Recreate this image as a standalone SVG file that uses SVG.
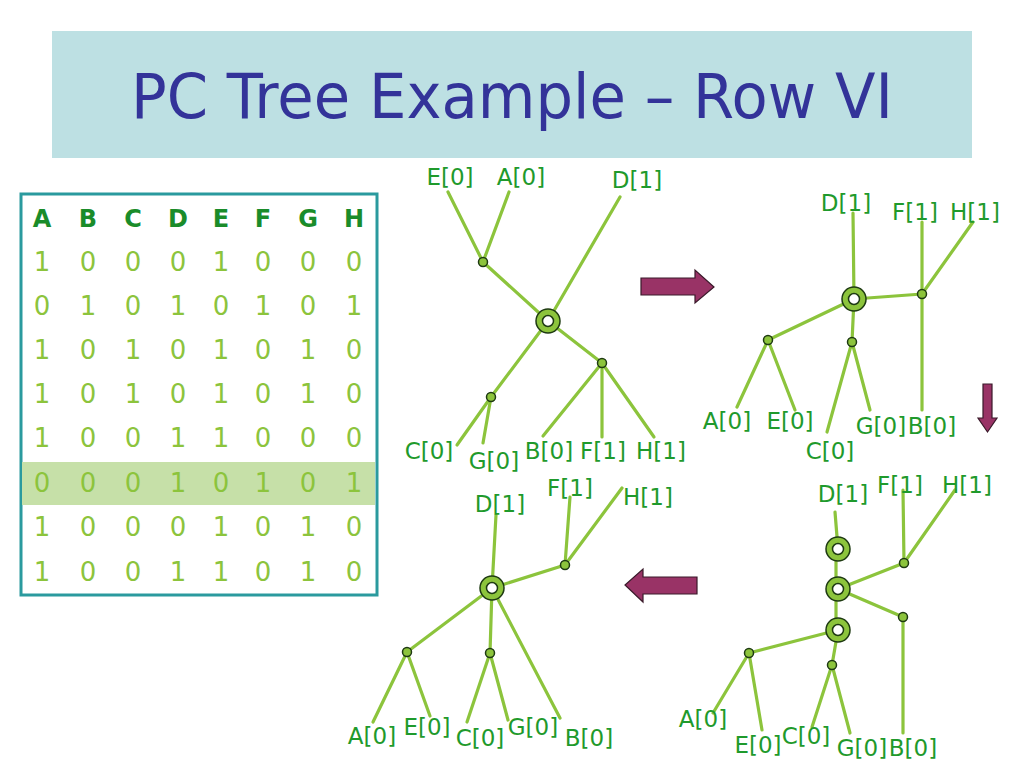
<svg xmlns="http://www.w3.org/2000/svg" width="1024" height="768" viewBox="0 0 1024 768">
<style>
.bg{fill:#ffffff}
.title{font-family:"DejaVu Sans","Liberation Sans",sans-serif;font-size:63px;fill:#333399;text-anchor:middle}
.hd{font-family:"DejaVu Sans","Liberation Sans",sans-serif;font-size:24px;font-weight:bold;fill:#1a8c2a;text-anchor:middle}
.dg{font-family:"DejaVu Sans","Liberation Sans",sans-serif;font-size:26px;fill:#8cc43c;text-anchor:middle}
.lb{font-family:"DejaVu Sans","Liberation Sans",sans-serif;font-size:23px;fill:#1f9a2c;text-anchor:middle}
.e{stroke:#8cc43c;stroke-width:3.2;fill:none;stroke-linecap:round}
.sn{fill:#8cc43c;stroke:#1e3a12;stroke-width:1.5}
.bo{fill:#8cc43c;stroke:#1e3a12;stroke-width:1.5}
.bi{fill:#ffffff;stroke:#1e3a12;stroke-width:1.5}
.arr{fill:#993366;stroke:#3a1a2a;stroke-width:1.2}
</style>
<defs>
<g id="pnode"><circle class="bo" r="12"/><circle class="bi" r="5.5"/></g>
</defs>
<rect class="bg" x="0" y="0" width="1024" height="768"/>
<g id="title">
<rect x="52" y="31" width="920" height="127" fill="#bde0e3"/>
<text class="title" x="512" y="118" textLength="762" lengthAdjust="spacingAndGlyphs">PC Tree Example – Row VI</text>
</g>
<g id="table">
<rect x="21" y="194" width="356" height="401" fill="#ffffff" stroke="#2a9a9e" stroke-width="3"/>
<rect x="22" y="462" width="353" height="43" fill="#c6e0a8"/>
<g class="hd"><text x="42" y="227">A</text><text x="88" y="227">B</text><text x="133" y="227">C</text><text x="178" y="227">D</text><text x="221" y="227">E</text><text x="263" y="227">F</text><text x="308" y="227">G</text><text x="354" y="227">H</text></g>
<g class="dg">
<text y="271"><tspan x="42">1</tspan><tspan x="88">0</tspan><tspan x="133">0</tspan><tspan x="178">0</tspan><tspan x="221">1</tspan><tspan x="263">0</tspan><tspan x="308">0</tspan><tspan x="354">0</tspan></text>
<text y="315"><tspan x="42">0</tspan><tspan x="88">1</tspan><tspan x="133">0</tspan><tspan x="178">1</tspan><tspan x="221">0</tspan><tspan x="263">1</tspan><tspan x="308">0</tspan><tspan x="354">1</tspan></text>
<text y="359"><tspan x="42">1</tspan><tspan x="88">0</tspan><tspan x="133">1</tspan><tspan x="178">0</tspan><tspan x="221">1</tspan><tspan x="263">0</tspan><tspan x="308">1</tspan><tspan x="354">0</tspan></text>
<text y="403"><tspan x="42">1</tspan><tspan x="88">0</tspan><tspan x="133">1</tspan><tspan x="178">0</tspan><tspan x="221">1</tspan><tspan x="263">0</tspan><tspan x="308">1</tspan><tspan x="354">0</tspan></text>
<text y="447"><tspan x="42">1</tspan><tspan x="88">0</tspan><tspan x="133">0</tspan><tspan x="178">1</tspan><tspan x="221">1</tspan><tspan x="263">0</tspan><tspan x="308">0</tspan><tspan x="354">0</tspan></text>
<text y="492"><tspan x="42">0</tspan><tspan x="88">0</tspan><tspan x="133">0</tspan><tspan x="178">1</tspan><tspan x="221">0</tspan><tspan x="263">1</tspan><tspan x="308">0</tspan><tspan x="354">1</tspan></text>
<text y="536"><tspan x="42">1</tspan><tspan x="88">0</tspan><tspan x="133">0</tspan><tspan x="178">0</tspan><tspan x="221">1</tspan><tspan x="263">0</tspan><tspan x="308">1</tspan><tspan x="354">0</tspan></text>
<text y="581"><tspan x="42">1</tspan><tspan x="88">0</tspan><tspan x="133">0</tspan><tspan x="178">1</tspan><tspan x="221">1</tspan><tspan x="263">0</tspan><tspan x="308">1</tspan><tspan x="354">0</tspan></text>
</g>
</g>
<g id="arrows">
<polygon id="arrow-right" class="arr" points="641,278 695,278 695,270 714,287 695,303 695,295 641,295"/>
<polygon id="arrow-down" class="arr" points="983,384 992,384 992,418 997,418 987.5,432 978,418 983,418"/>
<polygon id="arrow-left" class="arr" points="697,577 643,577 643,569 625,585 643,602 643,594 697,594"/>
</g>
<g id="connectors">
<!-- tree 1 -->
<line class="e" x1="448" y1="192" x2="483" y2="262"/>
<line class="e" x1="509" y1="192" x2="483" y2="262"/>
<line class="e" x1="483" y1="262" x2="548" y2="321"/>
<line class="e" x1="620" y1="197" x2="548" y2="321"/>
<line class="e" x1="548" y1="321" x2="491" y2="397"/>
<line class="e" x1="548" y1="321" x2="602" y2="363"/>
<line class="e" x1="491" y1="397" x2="457" y2="445"/>
<line class="e" x1="491" y1="397" x2="483" y2="443"/>
<line class="e" x1="602" y1="363" x2="543" y2="436"/>
<line class="e" x1="602" y1="363" x2="602" y2="437"/>
<line class="e" x1="602" y1="363" x2="654" y2="437"/>
<!-- tree 2 -->
<line class="e" x1="853" y1="213" x2="854" y2="299"/>
<line class="e" x1="854" y1="299" x2="922" y2="294"/>
<line class="e" x1="922" y1="222" x2="922" y2="410"/>
<line class="e" x1="973" y1="222" x2="922" y2="294"/>
<line class="e" x1="854" y1="299" x2="768" y2="340"/>
<line class="e" x1="854" y1="299" x2="852" y2="342"/>
<line class="e" x1="768" y1="340" x2="737" y2="407"/>
<line class="e" x1="768" y1="340" x2="795" y2="410"/>
<line class="e" x1="852" y1="342" x2="827" y2="432"/>
<line class="e" x1="852" y1="342" x2="870" y2="410"/>
<!-- tree 3 -->
<line class="e" x1="496" y1="515" x2="492" y2="588"/>
<line class="e" x1="570" y1="497" x2="565" y2="565"/>
<line class="e" x1="622" y1="488" x2="565" y2="565"/>
<line class="e" x1="492" y1="588" x2="565" y2="565"/>
<line class="e" x1="492" y1="588" x2="407" y2="652"/>
<line class="e" x1="492" y1="588" x2="490" y2="653"/>
<line class="e" x1="492" y1="588" x2="560" y2="718"/>
<line class="e" x1="407" y1="652" x2="373" y2="722"/>
<line class="e" x1="407" y1="652" x2="430" y2="716"/>
<line class="e" x1="490" y1="653" x2="467" y2="722"/>
<line class="e" x1="490" y1="653" x2="508" y2="720"/>
<!-- tree 4 -->
<line class="e" x1="835" y1="512" x2="838" y2="549"/>
<line class="e" x1="836" y1="549" x2="836" y2="630"/>
<line class="e" x1="838" y1="630" x2="832" y2="665"/>
<line class="e" x1="903" y1="490" x2="904" y2="563"/>
<line class="e" x1="955" y1="490" x2="904" y2="563"/>
<line class="e" x1="838" y1="589" x2="904" y2="563"/>
<line class="e" x1="838" y1="589" x2="903" y2="617"/>
<line class="e" x1="903" y1="617" x2="903" y2="733"/>
<line class="e" x1="838" y1="630" x2="749" y2="653"/>
<line class="e" x1="749" y1="653" x2="713" y2="713"/>
<line class="e" x1="749" y1="653" x2="762" y2="730"/>
<line class="e" x1="832" y1="665" x2="812" y2="727"/>
<line class="e" x1="832" y1="665" x2="850" y2="733"/>
</g>
<!-- tree 1 nodes -->
<g id="t1-EA"><circle class="sn" cx="483" cy="262" r="4.5"/></g>
<g id="t1-P"><use href="#pnode" x="548" y="321"/></g>
<g id="t1-CG"><circle class="sn" cx="491" cy="397" r="4.5"/></g>
<g id="t1-BFH"><circle class="sn" cx="602" cy="363" r="4.5"/></g>
<g id="t1-labels" class="lb">
<g id="t1-E"><text x="450" y="185">E[0]</text></g>
<g id="t1-A"><text x="521" y="185">A[0]</text></g>
<g id="t1-D"><text x="637" y="188">D[1]</text></g>
<g id="t1-C"><text x="429" y="459">C[0]</text></g>
<g id="t1-G"><text x="494" y="469">G[0]</text></g>
<g id="t1-B"><text x="549" y="459">B[0]</text></g>
<g id="t1-F"><text x="603" y="459">F[1]</text></g>
<g id="t1-H"><text x="661" y="459">H[1]</text></g>
</g>
<!-- tree 2 nodes -->
<g id="t2-P"><use href="#pnode" x="854" y="299"/></g>
<g id="t2-FH"><circle class="sn" cx="922" cy="294" r="4.5"/></g>
<g id="t2-AE"><circle class="sn" cx="768" cy="340" r="4.5"/></g>
<g id="t2-CG"><circle class="sn" cx="852" cy="342" r="4.5"/></g>
<g id="t2-labels" class="lb">
<g id="t2-D"><text x="846" y="211">D[1]</text></g>
<g id="t2-F"><text x="915" y="220">F[1]</text></g>
<g id="t2-H"><text x="975" y="220">H[1]</text></g>
<g id="t2-A"><text x="727" y="429">A[0]</text></g>
<g id="t2-E"><text x="790" y="429">E[0]</text></g>
<g id="t2-C"><text x="830" y="459">C[0]</text></g>
<g id="t2-G"><text x="881" y="434">G[0]</text></g>
<g id="t2-B"><text x="932" y="434">B[0]</text></g>
</g>
<!-- tree 3 nodes -->
<g id="t3-P"><use href="#pnode" x="492" y="588"/></g>
<g id="t3-FH"><circle class="sn" cx="565" cy="565" r="4.5"/></g>
<g id="t3-AE"><circle class="sn" cx="407" cy="652" r="4.5"/></g>
<g id="t3-CG"><circle class="sn" cx="490" cy="653" r="4.5"/></g>
<g id="t3-labels" class="lb">
<g id="t3-D"><text x="500" y="512">D[1]</text></g>
<g id="t3-F"><text x="570" y="496">F[1]</text></g>
<g id="t3-H"><text x="648" y="505">H[1]</text></g>
<g id="t3-A"><text x="372" y="744">A[0]</text></g>
<g id="t3-E"><text x="427" y="735">E[0]</text></g>
<g id="t3-C"><text x="480" y="746">C[0]</text></g>
<g id="t3-G"><text x="533" y="735">G[0]</text></g>
<g id="t3-B"><text x="589" y="746">B[0]</text></g>
</g>
<!-- tree 4 nodes -->
<g id="t4-P1"><use href="#pnode" x="838" y="549"/></g>
<g id="t4-P2"><use href="#pnode" x="838" y="589"/></g>
<g id="t4-P3"><use href="#pnode" x="838" y="630"/></g>
<g id="t4-FH"><circle class="sn" cx="904" cy="563" r="4.5"/></g>
<g id="t4-B"><circle class="sn" cx="903" cy="617" r="4.5"/></g>
<g id="t4-AE"><circle class="sn" cx="749" cy="653" r="4.5"/></g>
<g id="t4-CG"><circle class="sn" cx="832" cy="665" r="4.5"/></g>
<g id="t4-labels" class="lb">
<g id="t4-Dl"><text x="843" y="502">D[1]</text></g>
<g id="t4-Fl"><text x="900" y="493">F[1]</text></g>
<g id="t4-Hl"><text x="967" y="493">H[1]</text></g>
<g id="t4-Al"><text x="703" y="727">A[0]</text></g>
<g id="t4-El"><text x="758" y="753">E[0]</text></g>
<g id="t4-Cl"><text x="806" y="744">C[0]</text></g>
<g id="t4-Gl"><text x="862" y="756">G[0]</text></g>
<g id="t4-Bl"><text x="913" y="756">B[0]</text></g>
</g>
</svg>
